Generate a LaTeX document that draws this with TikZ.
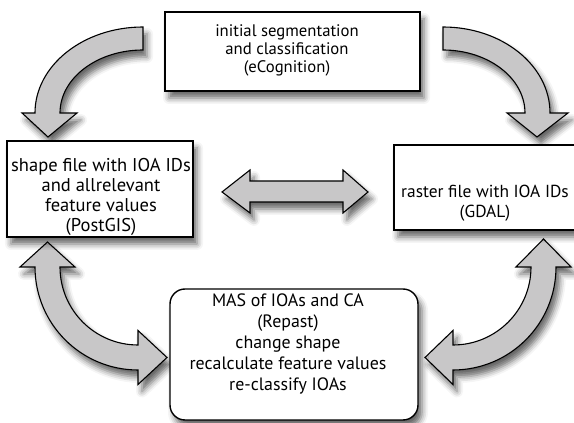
\documentclass[tikz,border=0pt]{standalone}
\usepackage{fontspec}
\setmainfont{PT Sans}
\usetikzlibrary{shadows.blur}
\definecolor{arrowgray}{HTML}{C8C7C8}
\tikzset{
  softshadow/.style={blur shadow={shadow xshift=4pt, shadow yshift=-7pt,
      shadow blur radius=6pt, shadow opacity=60}},
  box/.style={draw=black, line width=1.4pt, fill=white, softshadow, inner sep=0pt},
  boxtext/.style={align=center, inner sep=0pt},
  blockarrow/.style={draw=black, line width=1.1pt, fill=arrowgray,
      line join=miter, softshadow},
}
\begin{document}
\begin{tikzpicture}[x=1pt, y=1pt]
\useasboundingbox (0,0) rectangle (574,423);
\clip (0,0) rectangle (574,423);

% curved arrow: top box -> shape file
\draw[blockarrow] (143,396)
  arc[start angle=90, end angle=180, x radius=108, y radius=86]
  -- (22,310) -- (48,286) -- (77,310) -- (60,310)
  arc[start angle=180, end angle=90, x radius=83, y radius=63] -- cycle;

% curved arrow: top box -> raster file
\draw[blockarrow] (443,396)
  arc[start angle=90, end angle=0, x radius=107, y radius=86]
  -- (568,310) -- (537,286) -- (507,310) -- (525,310)
  arc[start angle=0, end angle=90, x radius=82, y radius=63] -- cycle;

% straight double arrow between the two files
\draw[blockarrow] (222,231) -- (250,253) -- (250,242) -- (343,242)
  -- (343,253) -- (368,231) -- (343,210) -- (343,221) -- (250,221)
  -- (250,210) -- cycle;

% curved double arrow: shape file <-> MAS
\draw[blockarrow] (35,156) -- (20,156) -- (47.5,181) -- (75,156) -- (60,156)
  arc[start angle=180, end angle=270, radius=78]
  -- (138,92.5) -- (167,65.5) -- (138,38.5) -- (138,53)
  arc[start angle=270, end angle=180, radius=103] -- cycle;

% curved double arrow: raster file <-> MAS
\draw[blockarrow] (556,156) -- (571,156) -- (543.5,184) -- (516,156) -- (531,156)
  arc[start angle=0, end angle=-90, radius=78]
  -- (453,92.5) -- (425,65.5) -- (453,38.5) -- (453,53)
  arc[start angle=-90, end angle=0, radius=103] -- cycle;

% boxes
\node[box, minimum width=255pt, minimum height=79pt] (seg) at (292.5,371.5) {};
\node[box, minimum width=186pt, minimum height=96pt] (shape) at (100,234) {};
\node[box, minimum width=183pt, minimum height=85pt] (raster) at (485.5,235.5) {};
\node[box, rounded corners=15pt, minimum width=248pt, minimum height=131pt]
  (mas) at (294,68.5) {};

% box texts
\node[boxtext, font=\fontsize{16.7}{17.8}\selectfont] (segT) at (287,372.5)
  {initial segmentation\\and classification\\(eCognition)};
\node[boxtext, font=\fontsize{18.5}{20}\selectfont] (shapeT) at (101,226.5)
  {shape file with IOA IDs\\and allrelevant\\feature values\\(PostGIS)};
\node[boxtext, font=\fontsize{17.4}{20}\selectfont] (rasterT) at (485,220)
  {raster file with IOA IDs\\(GDAL)};
\node[boxtext, font=\fontsize{17.9}{21}\selectfont] (masT) at (288,79)
  {MAS of IOAs and CA\\(Repast)\\change shape\\recalculate feature values\\re-classify IOAs};
\end{tikzpicture}
\end{document}
